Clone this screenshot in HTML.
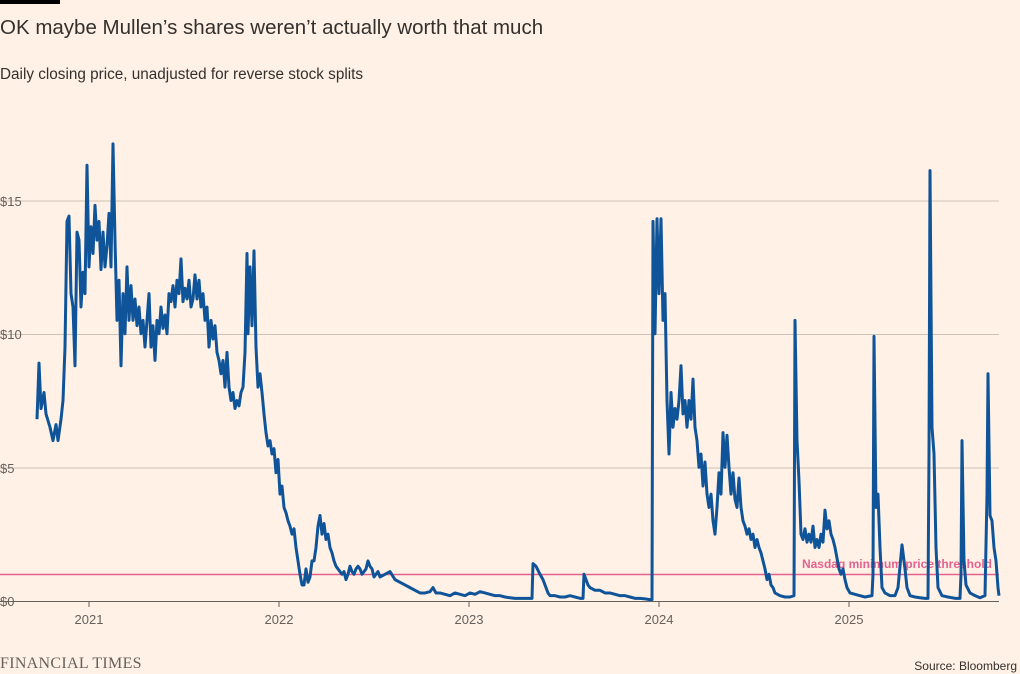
<!DOCTYPE html>
<html><head><meta charset="utf-8"><style>
body{margin:0;background:#fff1e5;width:1020px;height:674px;overflow:hidden;font-family:"Liberation Sans",sans-serif;position:relative}
.t{position:absolute;left:0;top:16px;font-size:20.5px;color:#33302e}
.s{position:absolute;left:0;top:66px;font-size:15.3px;color:#33302e}
.bar{position:absolute;left:0;top:0;width:60px;height:4px;background:#000}
.ft{position:absolute;left:0;top:655px;font-family:"Liberation Serif",serif;font-size:16px;color:#66605c;letter-spacing:0.3px}
.src{position:absolute;right:3px;top:659px;font-size:12px;color:#33302e}
</style></head><body>
<div class="bar"></div>
<div class="t">OK maybe Mullen’s shares weren’t actually worth that much</div>
<div class="s">Daily closing price, unadjusted for reverse stock splits</div>
<svg width="1020" height="674" style="position:absolute;left:0;top:0">
<g stroke="#ccc1b7" stroke-width="1">
<line x1="0" x2="999" y1="201" y2="201"/><line x1="0" x2="999" y1="334.5" y2="334.5"/><line x1="0" x2="999" y1="468" y2="468"/>
</g>
<line x1="0" x2="999" y1="601.5" y2="601.5" stroke="#66605c"/>
<g stroke="#66605c"><line x1="89" x2="89" y1="601" y2="607"/><line x1="279" x2="279" y1="601" y2="607"/><line x1="469" x2="469" y1="601" y2="607"/><line x1="659" x2="659" y1="601" y2="607"/><line x1="849" x2="849" y1="601" y2="607"/></g>
<g font-size="13" fill="#66605c" font-family="Liberation Sans,sans-serif">
<text x="0" y="206">$15</text><text x="0" y="339">$10</text><text x="0" y="473">$5</text><text x="0" y="606">$0</text>
<g text-anchor="middle"><text x="89" y="624">2021</text><text x="279" y="624">2022</text><text x="469" y="624">2023</text><text x="659" y="624">2024</text><text x="849" y="624">2025</text></g>
</g>
<line x1="0" x2="999" y1="574.5" y2="574.5" stroke="#e3628f" stroke-width="1.5"/>
<text x="992" y="568" text-anchor="end" font-size="12" font-weight="bold" fill="#e3628f" font-family="Liberation Sans,sans-serif" stroke="#fff1e5" stroke-width="3" paint-order="stroke">Nasdaq minimum price threshold</text>
<polyline transform="translate(0,601) scale(1,-26.73)" vector-effect="non-scaling-stroke" fill="none" stroke="#0f5499" stroke-width="3" stroke-linejoin="round" points="37,6.8 39,8.9 41,7.2 44,7.8 46,7 50,6.5 53,6 56,6.6 58,6 61,6.8 63,7.5 65,9.5 67,14.2 69,14.4 71,11.5 73,11 75,8.8 77,13.8 79,13.5 81,11 83,12.3 85,11.5 87,16.3 89,12.5 91,14 93,13 95,14.8 97,13.5 99,14.2 101,12.4 103,13.8 105,12.5 107,13.3 109,14.5 111,12.5 113,17.1 115,13.5 117,10.5 119,12 121,8.8 123,11.5 125,10 127,12.5 129,10.5 131,11.8 133,10.5 135,11.3 137,10.3 139,11 141,10 143,10.5 145,9.5 147,10.5 149,11.5 151,9.5 153,10.3 155,9 157,10.5 159,10 161,11 163,10.2 165,10.7 167,10 169,11.5 171,11.2 173,11.8 175,11 177,12 179,11.5 181,12.8 183,11.2 185,11.7 187,11.3 189,12 191,11 193,11.3 195,12.2 197,11.3 199,12 201,11 203,11.5 205,10.5 207,11 209,9.5 211,10.5 213,9.8 215,10.3 217,9.3 219,9 221,8.5 223,9 225,8 227,9.3 229,8 231,7.5 233,7.8 235,7.2 237,7.5 239,7.3 241,7.8 243,8 245,9.3 247,13 248,10 250,12.5 252,10.3 254,13.1 256,9.5 258,8 260,8.5 262,7.8 264,7 266,6.3 268,5.8 270,6 272,5.5 274,5.7 276,4.8 278,5.3 280,4 282,4.3 284,3.5 286,3.3 288,3 290,2.8 292,2.5 294,2.7 296,2 298,1.5 300,1 302,0.6 304,0.6 306,1.2 308,0.7 310,0.9 312,1.5 314,1.5 316,2 318,2.8 320,3.2 322,2.5 324,2.9 326,2.3 328,2.5 330,2 332,1.8 334,1.5 336,1.3 338,1.2 340,1.1 342,1 344,1.1 346,0.8 348,1 350,1.3 352,1.1 354,1 356,1.2 358,1.3 360,1.2 362,1 364,1.1 366,1.2 368,1.5 370,1.3 372,1.2 374,0.9 376,1 378,1.1 380,0.9 385,1 390,1.1 395,0.8 400,0.7 405,0.6 410,0.5 415,0.4 420,0.3 425,0.3 430,0.35 433,0.5 436,0.3 440,0.3 445,0.25 450,0.2 455,0.3 460,0.25 465,0.2 470,0.3 475,0.25 480,0.35 485,0.3 490,0.25 495,0.2 500,0.2 505,0.15 510,0.12 515,0.1 520,0.1 525,0.1 530,0.1 532,0.1 533,1.4 536,1.3 540,1 543,0.8 546,0.5 548,0.3 550,0.2 555,0.2 560,0.15 565,0.15 570,0.2 575,0.15 580,0.1 583,0.1 584,1 586,0.8 588,0.6 590,0.5 595,0.4 600,0.4 605,0.3 610,0.3 615,0.25 620,0.2 625,0.2 630,0.15 635,0.1 640,0.1 645,0.08 650,0.05 652,0.05 653,14.2 655,10 657,14.3 659,11.5 661,14.3 663,10.5 665,11.5 667,7.5 669,5.5 671,7.8 673,6.5 675,7.2 677,6.8 679,7.5 681,8.8 683,7 685,7.5 687,6.5 689,7.5 691,6.8 693,8.3 695,6.5 697,6 699,5 701,5.5 703,4.3 705,5.2 707,4 709,3.5 711,4 713,3 715,2.5 717,3.5 719,4.8 721,4 723,6.3 725,5 727,6.2 729,5 731,4 733,4.8 735,3.8 737,3.5 739,4.6 741,3.5 743,3 745,2.8 747,2.5 749,2.7 751,2.3 753,2.5 755,2 757,2.3 759,2 761,1.8 763,1.5 765,1.2 767,0.8 769,1 771,0.6 773,0.5 775,0.3 780,0.2 785,0.15 790,0.15 794,0.2 795,10.5 797,6 799,4.5 801,2.5 803,2.3 805,2.7 807,2.2 809,2.5 811,2.2 813,2.8 815,2 817,2.3 819,2 821,2.5 823,2.2 825,3.4 827,2.7 829,3 831,2.5 833,2.3 835,2 837,1.6 839,1.2 841,1 843,1.2 845,0.8 847,0.5 850,0.3 855,0.25 860,0.2 865,0.15 872,0.2 873,1 874,9.9 876,3.5 878,4 880,2 882,0.5 885,0.3 890,0.2 895,0.2 898,0.5 902,2.1 905,1.2 907,0.5 910,0.2 915,0.15 920,0.12 925,0.1 928,0.1 929,5.5 930,16.1 932,6.5 934,5.5 936,2 938,0.5 942,0.2 948,0.15 955,0.1 960,0.1 961,1 962,6 964,1.5 966,0.6 970,0.3 975,0.2 980,0.12 985,0.2 987,4 988,8.5 990,3.2 992,3 994,2 996,1.5 997,1 998,0.5 999,0.2"/>
</svg>
<div class="ft">FINANCIAL TIMES</div>
<div class="src">Source: Bloomberg</div>
</body></html>
